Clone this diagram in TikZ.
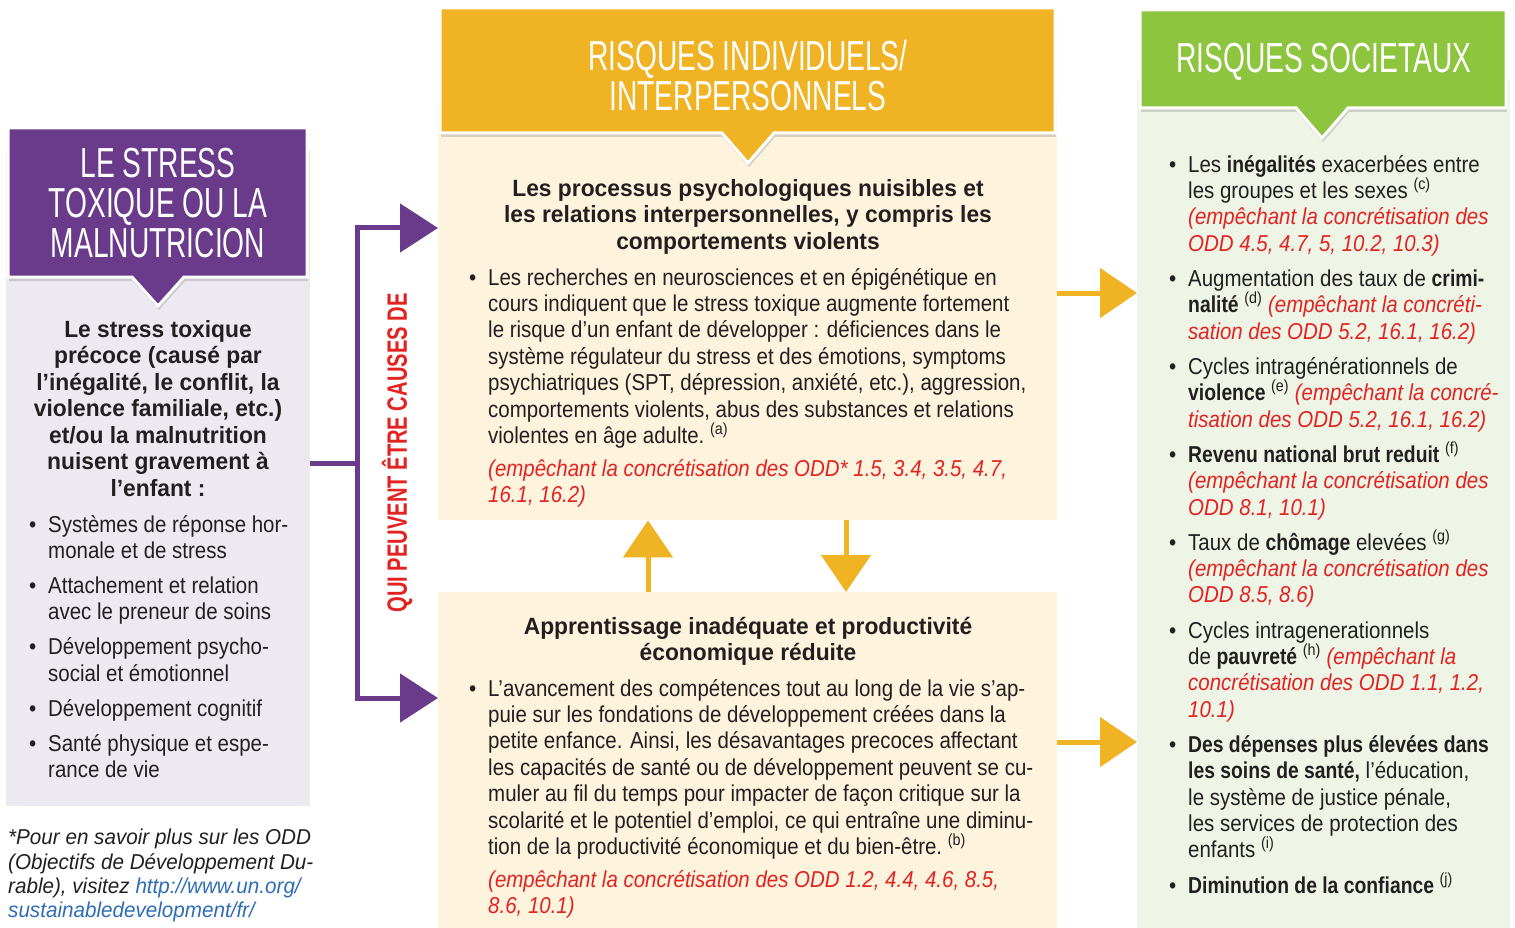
\documentclass[tikz,border=0pt]{standalone}
\usepackage{fontspec}
\setmainfont{Liberation Sans}[FakeStretch=0.89]
\newfontfamily\headfont{Liberation Sans}[FakeStretch=0.97]
\newfontfamily\inbold{Liberation Sans Bold}[FakeStretch=0.84]
\newfontfamily\titlefont{Liberation Sans}[FakeStretch=0.67]
\newfontfamily\sidefont{Liberation Sans}[FakeStretch=0.72]
\newfontfamily\notefont{Liberation Sans}[FakeStretch=0.96]
\usetikzlibrary{arrows.meta,shadows,calc}

\definecolor{purp}{RGB}{107,59,139}
\definecolor{lilac}{RGB}{236,233,241}
\definecolor{gold}{RGB}{240,179,35}
\definecolor{cream}{RGB}{254,243,221}
\definecolor{leaf}{RGB}{141,197,63}
\definecolor{mint}{RGB}{238,244,230}
\definecolor{oddred}{RGB}{226,35,33}
\definecolor{ink}{RGB}{35,31,32}
\definecolor{weblink}{RGB}{46,109,180}

\newcommand{\bul}{\llap{\textbullet\hspace{12pt}}}% bullet hanging left of the text
\newcommand{\oddref}[1]{{\color{oddred}\itshape #1}}
\newcommand{\refm}[1]{~\textsuperscript{(#1)}}
\newcommand{\bld}[1]{{\inbold #1}}
% header with a pointer below: colour, x1, y1, x2, y2, pointer x, tip y
\newcommand{\bubble}[7]{
  \draw[bubble,fill=#1] (#2,#3) -- (#4,#3) -- (#4,#5) -- (#6+26,#5)
    -- (#6,#7) -- (#6-26,#5) -- (#2,#5) -- cycle;
}

\tikzset{
  panel/.style={anchor=north west, inner sep=0pt, draw=none},
  bubble/.style={draw=white, line width=3pt, line join=miter,
    drop shadow={opacity=0.3, shadow xshift=1pt, shadow yshift=-4pt}},
  ttl/.style={text=white, align=center, inner sep=0pt,
    font=\titlefont\fontsize{42}{40}\selectfont},
  hd/.style={anchor=north, inner sep=0pt, align=center, text=ink,
    font=\headfont\bfseries\fontsize{23.5}{26.5}\selectfont},
  txt/.style={anchor=north west, inner sep=0pt, align=left, text=ink,
    font=\fontsize{23}{26.4}\selectfont},
  purpline/.style={draw=purp, line width=5pt, line join=miter},
  purparrow/.style={purpline, -{Triangle[length=38pt,width=48pt]}},
  goldarrow/.style={draw=gold, line width=5pt, -{Triangle[length=37pt,width=49pt]}},
}

\begin{document}
\begin{tikzpicture}[x=1pt,y=-1pt]
  \useasboundingbox (0,0) rectangle (1515,928);

  % background panels
  \node[panel, fill=lilac, minimum width=304pt, minimum height=656pt] (leftbox) at (6,150) {};
  \node[panel, fill=cream, minimum width=619pt, minimum height=420pt] (topbox) at (438,100) {};
  \node[panel, fill=cream, minimum width=619pt, minimum height=336pt] (botbox) at (438,592) {};
  \node[panel, fill=mint, minimum width=373pt, minimum height=848pt] (rightbox) at (1137,80) {};

  % headers
  \bubble{purp}{8}{128}{307}{277}{158}{306}
  \bubble{gold}{440}{8}{1055}{133}{748}{163}
  \bubble{leaf}{1140}{10}{1506}{108}{1322}{138}
  \node[ttl] (ltitle) at (158,203) {LE STRESS\\TOXIQUE OU LA\\MALNUTRICION};
  \node[ttl] (mtitle) at (748,75) {RISQUES INDIVIDUELS/\\INTERPERSONNELS};
  \node[ttl] (rtitle) at (1324,62) {RISQUES SOCIETAUX};

  % left column
  \node[hd] (lhead) at (158,320) {Le stress toxique\\précoce (causé par\\l’inégalité, le conflit, la\\
    violence familiale, etc.)\\et/ou la malnutrition\\nuisent gravement à\\l’enfant :};
  \node[txt] (litems) at (48,515) {\bul Systèmes de réponse hor-\\monale et de stress\\[8.6pt]
    \bul Attachement et relation\\avec le preneur de soins\\[8.6pt]
    \bul Développement psycho-\\social et émotionnel\\[8.6pt]
    \bul Développement cognitif\\[8.6pt]
    \bul Santé physique et espe-\\rance de vie};
  \node[txt, font=\notefont\itshape\fontsize{21.5}{24.3}\selectfont] (note) at (8,829)
    {*Pour en savoir plus sur les ODD\\(Objectifs de Développement Du-\\
     rable), visitez {\color{weblink}http://www.un.org/}\\{\color{weblink}sustainabledevelopment/fr/}};

  % middle column
  \node[hd] (thead) at (748,179) {Les processus psychologiques nuisibles et\\
    les relations interpersonnelles, y compris les\\comportements violents};
  \node[txt] (ttext) at (488,268) {\bul Les recherches en neurosciences et en épigénétique en\\
    cours indiquent que le stress toxique augmente fortement\\
    le risque d’un enfant de développer : déficiences dans le\\
    système régulateur du stress et des émotions, symptoms\\
    psychiatriques (SPT, dépression, anxiété, etc.), aggression,\\
    comportements violents, abus des substances et relations\\
    violentes en âge adulte.\refm{a}\\[6.5pt]
    \oddref{(empêchant la concrétisation des ODD* 1.5, 3.4, 3.5, 4.7,}\\
    \oddref{16.1, 16.2)}};
  \node[hd] (bhead) at (748,617) {Apprentissage inadéquate et productivité\\économique réduite};
  \node[txt] (btext) at (488,679) {\bul L’avancement des compétences tout au long de la vie s’ap-\\
    puie sur les fondations de développement créées dans la\\
    petite enfance. Ainsi, les désavantages precoces affectant\\
    les capacités de santé ou de développement peuvent se cu-\\
    muler au fil du temps pour impacter de façon critique sur la\\
    scolarité et le potentiel d’emploi, ce qui entraîne une diminu-\\
    tion de la productivité économique et du bien-être.\refm{b}\\[6.5pt]
    \oddref{(empêchant la concrétisation des ODD 1.2, 4.4, 4.6, 8.5,}\\
    \oddref{8.6, 10.1)}};

  % right column
  \node[txt] (rtext) at (1188,155) {\bul Les \bld{inégalités} exacerbées entre\\
    les groupes et les sexes\refm{c}\\
    \oddref{(empêchant la concrétisation des}\\
    \oddref{ODD 4.5, 4.7, 5, 10.2, 10.3)}\\[8.7pt]
    \bul Augmentation des taux de \bld{crimi-}\\
    \bld{nalité}\refm{d} \oddref{(empêchant la concréti-}\\
    \oddref{sation des ODD 5.2, 16.1, 16.2)}\\[8.7pt]
    \bul Cycles intragénérationnels de\\
    \bld{violence}\refm{e} \oddref{(empêchant la concré-}\\
    \oddref{tisation des ODD 5.2, 16.1, 16.2)}\\[8.7pt]
    \bul \bld{Revenu national brut reduit}\refm{f}\\
    \oddref{(empêchant la concrétisation des}\\
    \oddref{ODD 8.1, 10.1)}\\[8.7pt]
    \bul Taux de \bld{chômage} elevées\refm{g}\\
    \oddref{(empêchant la concrétisation des}\\
    \oddref{ODD 8.5, 8.6)}\\[8.7pt]
    \bul Cycles intragenerationnels\\
    de \bld{pauvreté}\refm{h} \oddref{(empêchant la}\\
    \oddref{concrétisation des ODD 1.1, 1.2,}\\
    \oddref{10.1)}\\[8.7pt]
    \bul \bld{Des dépenses plus élevées dans}\\
    \bld{les soins de santé,} l’éducation,\\
    le système de justice pénale,\\
    les services de protection des\\
    enfants\refm{i}\\[8.7pt]
    \bul \bld{Diminution de la confiance}\refm{j}};

  % purple fork
  \coordinate (fork) at (357,463);
  \coordinate (upper) at (357,228);
  \coordinate (lower) at (357,698);
  \draw[purpline] (leftbox.east |- fork) -- (fork);
  \draw[purparrow] (fork) |- (upper -| topbox.west);
  \draw[purparrow] (fork) |- (lower -| botbox.west);
  \node[rotate=90, inner sep=0pt, text=oddred, font=\sidefont\bfseries\fontsize{28}{28}\selectfont]
    (causes) at (397,453) {QUI PEUVENT ÊTRE CAUSES DE};

  % gold arrows
  \coordinate (vup) at (648,0);
  \coordinate (vdown) at (846,0);
  \draw[goldarrow] (botbox.north -| vup) -- (topbox.south -| vup);
  \draw[goldarrow] (topbox.south -| vdown) -- (botbox.north -| vdown);
  \coordinate (hone) at (0,293);
  \coordinate (htwo) at (0,742);
  \draw[goldarrow] (topbox.east |- hone) -- (rightbox.west |- hone);
  \draw[goldarrow] (botbox.east |- htwo) -- (rightbox.west |- htwo);
\end{tikzpicture}
\end{document}
